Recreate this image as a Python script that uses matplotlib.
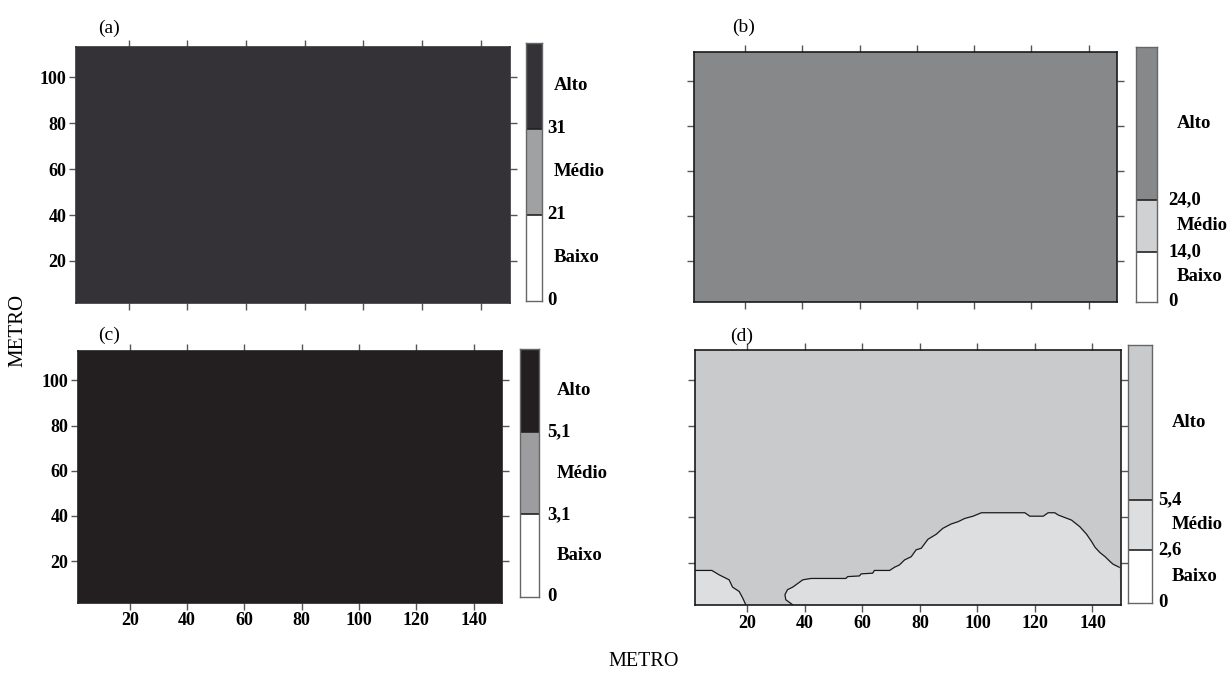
import numpy as np
import matplotlib
matplotlib.use('Agg')
import matplotlib.pyplot as plt

plt.rcParams['font.family'] = ['Liberation Serif', 'DejaVu Serif']

# Survey grid extent (metres)
x_extent = [2.0, 150.0]
y_extent = [1.6, 113.0]
x_ticks = [20, 40, 60, 80, 100, 120, 140]
y_ticks = [20, 40, 60, 80, 100]

classes = ['Baixo', 'Médio', 'Alto']

# Class thresholds per panel (lower, upper)
thr_a = ['0', '21', '31']
thr_b = ['0', '14,0', '24,0']
thr_c = ['0', '3,1', '5,1']
thr_d = ['0', '2,6', '5,4']

# Class colours per panel (Baixo, Médio, Alto)
col_a = ['#ffffff', '#a0a1a3', '#343236']
col_b = ['#ffffff', '#d0d1d3', '#87888a']
col_c = ['#ffffff', '#9d9d9f', '#231f20']
col_d = ['#ffffff', '#dddee0', '#c9cacc']

# Panel (d): Médio / Alto boundary, left patch
d_left_x = [1.3, 7.7, 10.2, 13.7, 14.9, 17.2, 18.4, 19.5]
d_left_y = [16.7, 16.7, 14.8, 12.6, 9.4, 7.5, 4.7, 1.7]

# Panel (d): Médio / Alto boundary, right patch
d_right_x = [35.8, 33.4, 33.1, 34.0, 35.8, 36.9, 39.3, 42.2, 54.3, 54.9, 59.0, 59.6,
             63.6, 64.2, 69.5, 71.2, 72.9, 74.7, 77.0, 78.7, 80.5, 82.8, 85.7, 88.0,
             90.9, 93.3, 95.6, 98.5, 101.4, 116.5, 118.2, 122.9, 124.6, 126.9, 128.1,
             132.7, 135.6, 137.9, 139.7, 140.9, 142.6, 144.4, 146.1, 147.2, 149.3]
d_right_y = [1.7, 3.9, 6.1, 8.3, 9.4, 10.4, 12.6, 13.2, 13.2, 14.0, 14.3, 15.2,
             15.5, 16.7, 16.7, 18.1, 19.1, 21.3, 22.7, 25.7, 26.4, 30.3, 32.5, 35.1,
             37.0, 38.0, 39.4, 40.4, 41.9, 41.9, 40.4, 40.4, 41.9, 41.9, 40.9,
             38.7, 35.8, 32.6, 29.3, 26.8, 24.5, 22.7, 20.6, 19.4, 18.1]


fig = plt.figure(figsize=(12.27, 6.75), dpi=100)

def setup_axes(rect, xlab, ylab, edge):
    ax = fig.add_axes(rect)
    ax.set_xlim(x_extent)
    ax.set_ylim(y_extent)
    ax.set_xticks(x_ticks)
    ax.set_yticks(y_ticks)
    ax.tick_params(direction='out', length=5, width=1, color='#555555',
                   top=True, right=True, labelsize=13, pad=2,
                   labelbottom=xlab, labelleft=ylab)
    for lab in ax.get_xticklabels() + ax.get_yticklabels():
        lab.set_fontweight('bold')
    for s in ax.spines.values():
        s.set_color(edge)
        s.set_linewidth(1.2)
    return ax

def colorbar(rect, thr, cols, fracs, dv, dl):
    cax = fig.add_axes(rect)
    cax.set_xlim(0, 1)
    cax.set_ylim(0, 1)
    cax.set_xticks([])
    cax.set_yticks([])
    bottoms = np.concatenate([[0], np.cumsum(fracs)[:-1]])
    cax.bar(0.5, fracs, width=1, bottom=bottoms, color=cols, edgecolor='none')
    for b in bottoms[1:]:
        cax.axhline(b, color='#222222', lw=1.2)
    for s in cax.spines.values():
        s.set_color('#666666')
        s.set_linewidth(1)
    for b, t in zip(bottoms, thr):
        cax.annotate(t, xy=(1, b), xycoords='axes fraction', xytext=(dv, 0),
                     textcoords='offset points', ha='left', va='center',
                     fontsize=13.5, fontweight='bold')
    for b, f, c in zip(bottoms, fracs, classes):
        cax.annotate(c, xy=(1, b + f / 2), xycoords='axes fraction', xytext=(dl, 0),
                     textcoords='offset points', ha='left', va='center',
                     fontsize=13.5, fontweight='bold')

# (a)
ax_a = setup_axes([0.0619, 0.5507, 0.3538, 0.3793], False, True, col_a[2])
ax_a.fill_between(x_extent, y_extent[0], y_extent[1], color=col_a[2], lw=0)
colorbar([0.4286, 0.5541, 0.0135, 0.3826], thr_a, col_a, [1/3, 1/3, 1/3], 3.6, 8)

# (b)
ax_b = setup_axes([0.5652, 0.5521, 0.3455, 0.3704], False, False, '#1a1a1a')
ax_b.fill_between(x_extent, y_extent[0], y_extent[1], color=col_b[2], lw=0)
colorbar([0.9255, 0.5530, 0.0174, 0.3769], thr_b, col_b, [0.196, 0.204, 0.6], 8, 14.5)

# (c)
ax_c = setup_axes([0.0638, 0.1071, 0.3455, 0.3729], True, True, col_c[2])
ax_c.fill_between(x_extent, y_extent[0], y_extent[1], color=col_c[2], lw=0)
colorbar([0.4238, 0.1160, 0.0151, 0.3665], thr_c, col_c, [1/3, 1/3, 1/3], 6, 13)

# (d)
ax_d = setup_axes([0.5668, 0.1037, 0.3470, 0.3778], True, False, '#1a1a1a')
ax_d.fill_between(x_extent, y_extent[0], y_extent[1], color=col_d[2], lw=0)
ax_d.fill(d_left_x + [x_extent[0], x_extent[0]],
          d_left_y + [y_extent[0], d_left_y[0]], color=col_d[1], lw=0)
ax_d.plot(d_left_x, d_left_y, color='#1a1a1a', lw=0.9)
ax_d.fill(d_right_x + [x_extent[1], x_extent[1]],
          d_right_y + [y_extent[0], y_extent[0]], color=col_d[1], lw=0)
ax_d.plot(d_right_x, d_right_y, color='#1a1a1a', lw=0.9)
colorbar([0.9196, 0.1067, 0.0196, 0.3822], thr_d, col_d, [0.205, 0.195, 0.6], 4.3, 13.7)

# panel letters
for lbl, x, y in [('(a)', 108.7, 28), ('(b)', 743.9, 27), ('(c)', 108.7, 335), ('(d)', 741.9, 336)]:
    fig.text(x / 1227, 1 - y / 675, lbl, ha='center', va='center', fontsize=14)

fig.text(18 / 1227, 1 - 330 / 675, 'METRO', rotation=90, ha='center', va='center', fontsize=15)
fig.text(644 / 1227, 1 - 662 / 675, 'METRO', ha='center', va='center', fontsize=14.5)

plt.savefig('out.png', dpi=100)
